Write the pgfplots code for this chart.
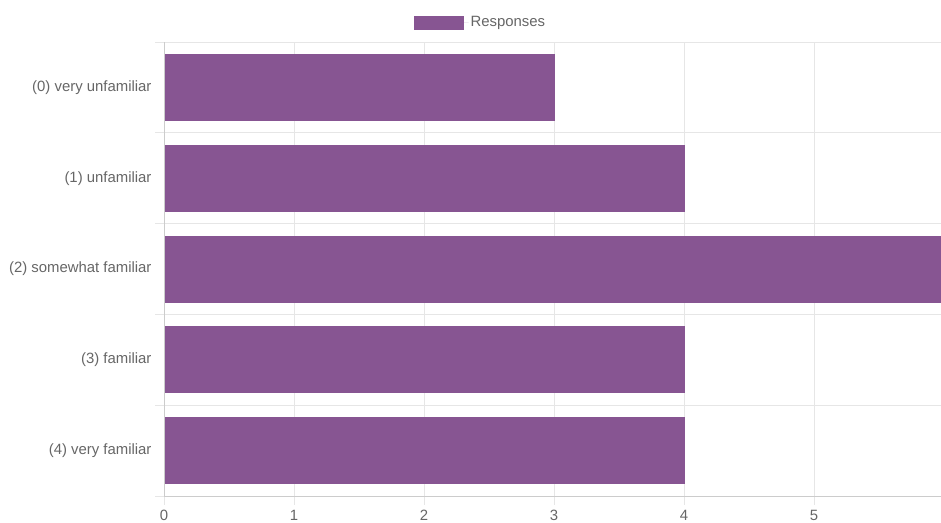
\documentclass[border=0pt]{standalone}
\usepackage{pgfplots}
\pgfplotsset{compat=1.18}
\usepackage{fontspec}
\setmainfont{Liberation Sans}
\definecolor{barcol}{HTML}{875592}
\definecolor{gridcol}{HTML}{E6E6E6}
\definecolor{axiscol}{HTML}{CCCCCC}
\definecolor{txtcol}{HTML}{666666}
\begin{document}
\begin{tikzpicture}
\path[use as bounding box, clip] (0,0) rectangle (941pt,522pt);
\begin{axis}[
  at={(164pt,26pt)}, anchor=south west,
  scale only axis, width=780pt, height=454pt,
  xmin=0, xmax=6, ymin=-0.5, ymax=4.5, y dir=reverse,
  xbar, bar width=66pt, bar shift=0pt,
  xtick={0,1,2,3,4,5,6},
  xticklabels={0,1,2,3,4,5,},
  ytick={0,1,2,3,4},
  yticklabels={(0) very unfamiliar,(1) unfamiliar,(2) somewhat familiar,(3) familiar,(4) very familiar},
  minor ytick={-0.5,0.5,1.5,2.5,3.5,4.5},
  xmajorgrids, yminorgrids,
  grid style={gridcol, line width=1pt},
  minor grid style={gridcol, line width=1pt},
  major tick length=0pt,
  minor tick length=0pt,
  axis line style={axiscol, line width=1pt},
  axis x line*=bottom, axis y line*=left,
  x axis line style={-}, y axis line style={-},
  tick style={draw=none},
  every tick label/.append style={font=\fontsize{14.9}{16}\selectfont, text=txtcol},
  /pgf/number format/assume math mode=true,
  yticklabel style={xshift=-9pt},
  xticklabel style={inner sep=0pt, yshift=-14pt},
  legend style={at={(0.3205,1.0430)}, anchor=west, draw=none, fill=none, inner sep=0pt,
    font=\fontsize{14.9}{16}\selectfont, text=txtcol},
  legend image code/.code={\draw[fill=barcol,draw=barcol] (0pt,-6.5pt) rectangle (49pt,6.5pt);
    \path[draw=none] (49pt,0pt) -- (54pt,0pt);},
  clip=false,
]
\addplot[xbar, fill=barcol, draw=barcol, line width=0.8pt] coordinates {(3,0) (4,1) (6,2) (4,3) (4,4)};
\addlegendentry{Responses}
\pgfplotsinvokeforeach{-0.5,0.5,1.5,2.5,3.5,4.5}{
  \draw[gridcol, line width=1pt] (axis cs:0,#1) -- ([xshift=-9pt]axis cs:0,#1);
}
\pgfplotsinvokeforeach{0,1,2,3,4,5}{
  \draw[gridcol, line width=1pt] (axis cs:#1,4.5) -- ([yshift=-9pt]axis cs:#1,4.5);
}
\draw[axiscol, line width=1pt] (axis cs:0,-0.5) -- (axis cs:0,4.5);
\draw[axiscol, line width=1pt] (axis cs:0,4.5) -- (axis cs:6,4.5);
\end{axis}
\end{tikzpicture}
\end{document}
